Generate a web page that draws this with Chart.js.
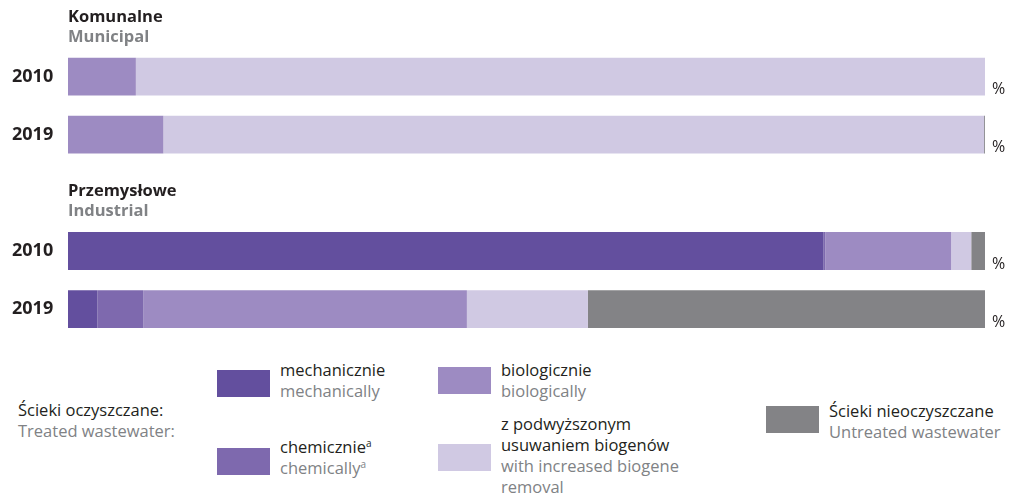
<!DOCTYPE html>
<html>
<head>
<meta charset="utf-8">
<script src="https://cdn.jsdelivr.net/npm/chart.js@4/dist/chart.umd.min.js"></script>
<style>
  body { margin: 0; background: #fff; font-family: 'Open Sans', sans-serif; }
  #wrap { position: relative; width: 1015px; height: 496px; }
  #box { position: absolute; left: 0; top: 0; width: 1015px; height: 352px; }
  .sw { position: absolute; width: 53px; height: 27px; }
  .txt { position: absolute; font-size: 16.5px; line-height: 21px; color: #231f20; white-space: nowrap; }
  .txt .en { color: #808285; }
  sup { font-size: 10px; vertical-align: 6px; line-height: 0; }
</style>
</head>
<body>
<div id="wrap">
  <div id="box"><canvas id="myChart"></canvas></div>

  <div class="txt" style="left:18px; top:399px;">Ścieki oczyszczane:<br><span class="en">Treated wastewater:</span></div>

  <div class="sw" style="left:217px; top:370px; background:#634f9e;"></div>
  <div class="txt" style="left:280px; top:359px;">mechanicznie<br><span class="en">mechanically</span></div>

  <div class="sw" style="left:217px; top:448px; background:#7e69ae;"></div>
  <div class="txt" style="left:280px; top:436px;">chemicznie<sup>a</sup><br><span class="en">chemically<sup>a</sup></span></div>

  <div class="sw" style="left:438px; top:367px; background:#9d8bc2;"></div>
  <div class="txt" style="left:501px; top:359px;">biologicznie<br><span class="en">biologically</span></div>

  <div class="sw" style="left:438px; top:444px; background:#d0c9e3;"></div>
  <div class="txt" style="left:501px; top:413px;">z podwyższonym<br>usuwaniem biogenów<br><span class="en">with increased biogene<br>removal</span></div>

  <div class="sw" style="left:766px; top:406px; background:#838386;"></div>
  <div class="txt" style="left:829px; top:400px;">Ścieki nieoczyszczane<br><span class="en">Untreated wastewater</span></div>
</div>

<script>
'use strict';

// rows: municipal 2010, 2019, spacer, industrial 2010, 2019
const categories = ['2010', '2019', '', '2010', '2019'];
const groupTitles = ['Komunalne', 'Przemysłowe'];
const groupSubtitles = ['Municipal', 'Industrial'];
const groupStart = [0, 3];

const seriesNames = ['mechanicznie', 'chemicznie', 'biologicznie', 'z podwyższonym usuwaniem biogenów', 'Ścieki nieoczyszczane'];
const mechanical = [0, 0, null, 82.4, 3.2];
const chemical = [0, 0, null, 0.2, 5.0];
const biological = [7.4, 10.4, null, 13.7, 35.3];
const increased = [92.6, 89.5, null, 2.2, 13.2];
const untreated = [0, 0.1, null, 1.5, 43.3];

const colors = ['#634f9e', '#7e69ae', '#9d8bc2', '#d0c9e3', '#838386'];
const allSeries = [mechanical, chemical, biological, increased, untreated];

let datasets = [];
for (let i = 0; i < allSeries.length; i++) {
  datasets.push({
    label: seriesNames[i],
    data: allSeries[i],
    backgroundColor: colors[i],
    borderWidth: 0,
    barPercentage: 1,
    categoryPercentage: 0.65
  });
}

// headings above each group and % at the end of each bar
const extraText = {
  id: 'extraText',
  afterDraw(chart) {
    const ctx = chart.ctx;
    const y = chart.scales.y;
    const area = chart.chartArea;
    ctx.save();
    ctx.textBaseline = 'middle';
    ctx.textAlign = 'left';
    for (let g = 0; g < groupTitles.length; g++) {
      const top = y.getPixelForValue(groupStart[g]) - 59.5;
      ctx.font = 'bold 16.5px "Open Sans"';
      ctx.fillStyle = '#231f20';
      ctx.fillText(groupTitles[g], area.left, top);
      ctx.fillStyle = '#808285';
      ctx.fillText(groupSubtitles[g], area.left, top + 20);
    }
    ctx.font = '16px "Open Sans"';
    ctx.fillStyle = '#231f20';
    for (let i = 0; i < categories.length; i++) {
      if (categories[i] === '') continue;
      ctx.fillText('%', area.right + 7, y.getPixelForValue(i) + 13);
    }
    ctx.restore();
  }
};

let ctx = document.getElementById('myChart').getContext('2d');
let myChart = new Chart(ctx, {
  type: 'bar',
  data: { labels: categories, datasets: datasets },
  options: {
    indexAxis: 'y',
    responsive: true,
    maintainAspectRatio: false,
    animation: false,
    layout: { padding: { left: 12, right: 30, top: 47.5, bottom: 6 } },
    plugins: { legend: { display: false }, tooltip: { enabled: false } },
    scales: {
      x: { stacked: true, min: 0, max: 100, display: false },
      y: {
        stacked: true,
        grid: { display: false },
        border: { display: false },
        afterFit(scale) { scale.width = 56; },
        ticks: {
          crossAlign: 'far',
          color: '#231f20',
          font: { family: 'Open Sans', size: 18, weight: 'bold' }
        }
      }
    }
  },
  plugins: [extraText]
});
</script>
</body>
</html>
